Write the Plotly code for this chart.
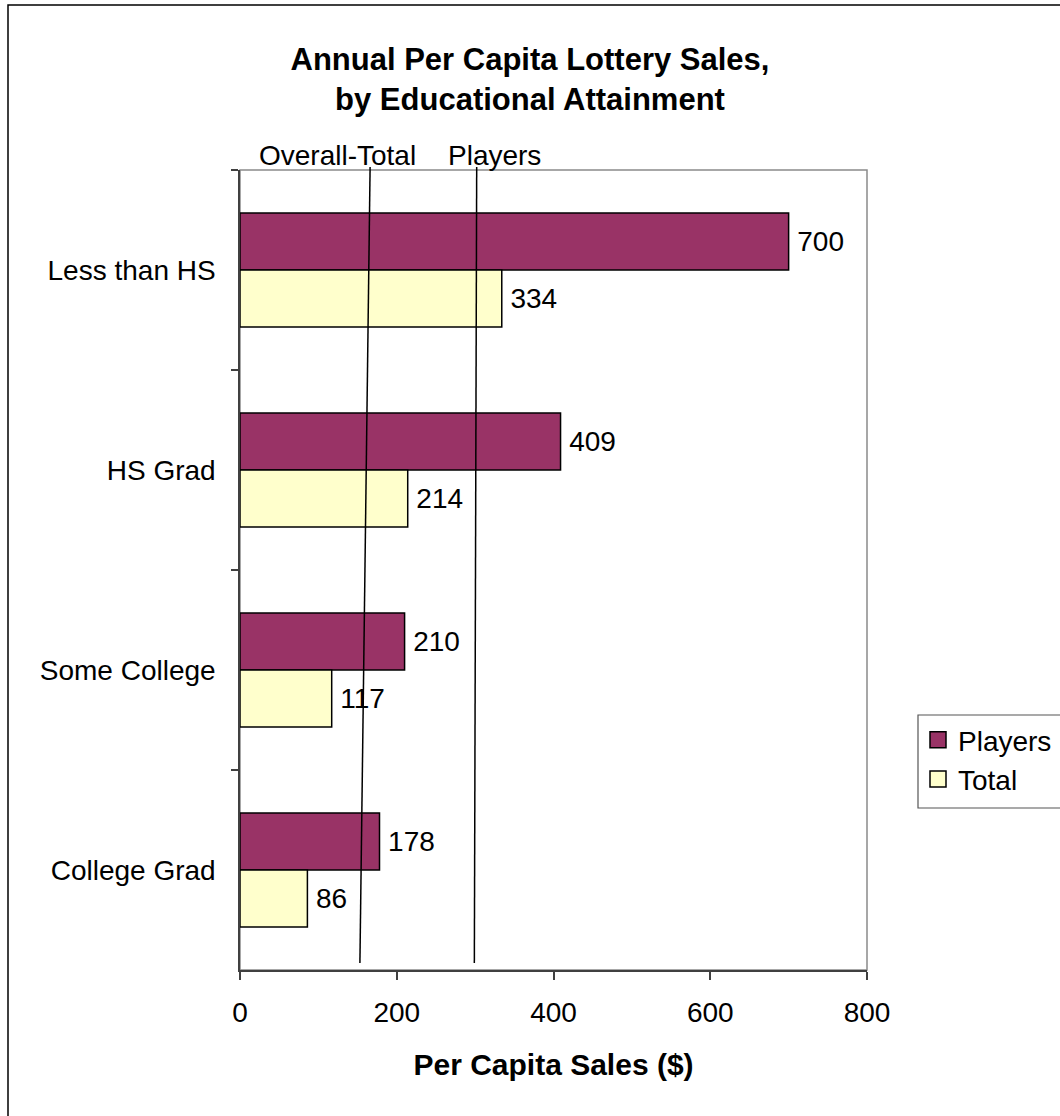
import plotly.graph_objects as go

categories = ["Less than HS", "HS Grad", "Some College", "College Grad"]
players = [700, 409, 210, 178]
total = [334, 214, 117, 86]
x_ticks = [0, 200, 400, 600, 800]

# reference lines (value at bottom, value at top of plot)
ref_labels = ["Overall-Total", "Players"]
ref_bottom = [153, 299]
ref_top = [166, 302]

FONT = "Liberation Sans, Arial, sans-serif"
OFF = 0  # page body margin removed by post_script
W, H = 1060, 1116
L, T = 240 - OFF, 170 - OFF
R = W - (867 - OFF)
B = H - (970 - OFF)
PW, PH = W - L - R, H - T - B


def px_x(p):
    return (p - OFF - L) / PW


def px_y(p):
    return (H - B - (p - OFF)) / PH


fig = go.Figure()
fig.add_trace(go.Bar(
    name="Players", y=categories, x=players, orientation="h",
    marker=dict(color="#993366", line=dict(color="black", width=1.5)),
    text=["\u2009" + str(v) for v in players], textposition="outside",
    textfont=dict(size=28, color="black", family=FONT),
    cliponaxis=False, constraintext="none", showlegend=False,
))
fig.add_trace(go.Bar(
    name="Total", y=categories, x=total, orientation="h",
    marker=dict(color="#FFFFCC", line=dict(color="black", width=1.5)),
    text=["\u2009" + str(v) for v in total], textposition="outside",
    textfont=dict(size=28, color="black", family=FONT),
    cliponaxis=False, constraintext="none", showlegend=False,
))
# legend entries with larger square swatches
for nm, col, grp in [("Players", "#993366", "a"), ("Total", "#FFFFCC", "b")]:
    fig.add_trace(go.Scatter(
        name=nm, x=[None], y=[None], mode="markers", legendgroup=grp,
        marker=dict(symbol="square", size=18, color=col,
                    line=dict(color="black", width=1.5)),
    ))

shapes = [
    # plot frame
    dict(type="rect", xref="paper", yref="paper", x0=0, x1=1, y0=0, y1=1,
         line=dict(color="#8a8a8a", width=1.5), layer="below"),
    # outer chart border
    dict(type="rect", xref="paper", yref="paper",
         x0=px_x(8), x1=px_x(W + 20), y0=px_y(H + 20), y1=px_y(5),
         line=dict(color="black", width=1.5)),
    # legend box (extends past right edge as in the reference)
    dict(type="rect", xref="paper", yref="paper",
         x0=px_x(918), x1=px_x(W + 20), y0=px_y(808), y1=px_y(715),
         line=dict(color="#555555", width=1.2)),
]
for xb, xt in zip(ref_bottom, ref_top):
    shapes.append(dict(type="line", xref="x", yref="paper",
                       x0=xb, x1=xt, y0=px_y(963), y1=px_y(167),
                       line=dict(color="black", width=1.5)))

annotations = [
    dict(text=ref_labels[0], xref="paper", yref="paper", x=px_x(337), y=px_y(156),
         xanchor="center", yanchor="middle", showarrow=False,
         font=dict(size=28, color="black", family=FONT)),
    dict(text=ref_labels[1], xref="paper", yref="paper", x=px_x(494), y=px_y(156),
         xanchor="center", yanchor="middle", showarrow=False,
         font=dict(size=28, color="black", family=FONT)),
]

fig.update_layout(
    width=W, height=H,
    margin=dict(l=L, r=R, t=T, b=B, autoexpand=False),
    paper_bgcolor="white", plot_bgcolor="white",
    barmode="group", bargap=0.43, bargroupgap=0,
    title=dict(text="<b>Annual Per Capita Lottery Sales,<br>by Educational Attainment</b>",
               x=(530 - OFF) / W, xanchor="center", xref="container",
               y=1 - (70 - OFF) / H, yanchor="middle",
               font=dict(size=31, color="black", family=FONT)),
    font=dict(family=FONT, size=28, color="black"),
    showlegend=True,
    legend=dict(x=px_x(918), y=px_y(715), xanchor="left", yanchor="top",
                borderwidth=0, bgcolor="rgba(0,0,0,0)",
                traceorder="normal", tracegroupgap=5,
                font=dict(size=28, color="black", family=FONT),
                itemsizing="trace"),
    xaxis=dict(range=[0, 800], tickvals=x_ticks, ticktext=[str(v) for v in x_ticks],
               showgrid=False, zeroline=False, showline=True, linecolor="#404040",
               linewidth=1.5, ticks="outside", ticklen=8, tickcolor="#404040",
               tickwidth=1.5, ticklabelstandoff=9,
               tickfont=dict(size=28, color="black", family=FONT),
               title=dict(text="<b>Per Capita Sales ($)</b>", standoff=27,
                          font=dict(size=30, color="black", family=FONT))),
    yaxis=dict(autorange="reversed", showgrid=False, zeroline=False, showline=True,
               linecolor="#404040", linewidth=1.5, ticks="outside", ticklen=7,
               tickcolor="#404040", tickwidth=1.5, tickson="boundaries",
               ticklabelstandoff=17,
               tickfont=dict(size=28, color="black", family=FONT)),
    shapes=shapes, annotations=annotations,
)

fig.write_html("out.html", config={"displayModeBar": False},
               post_script="document.body.style.margin='0';document.body.style.overflow='hidden';")
